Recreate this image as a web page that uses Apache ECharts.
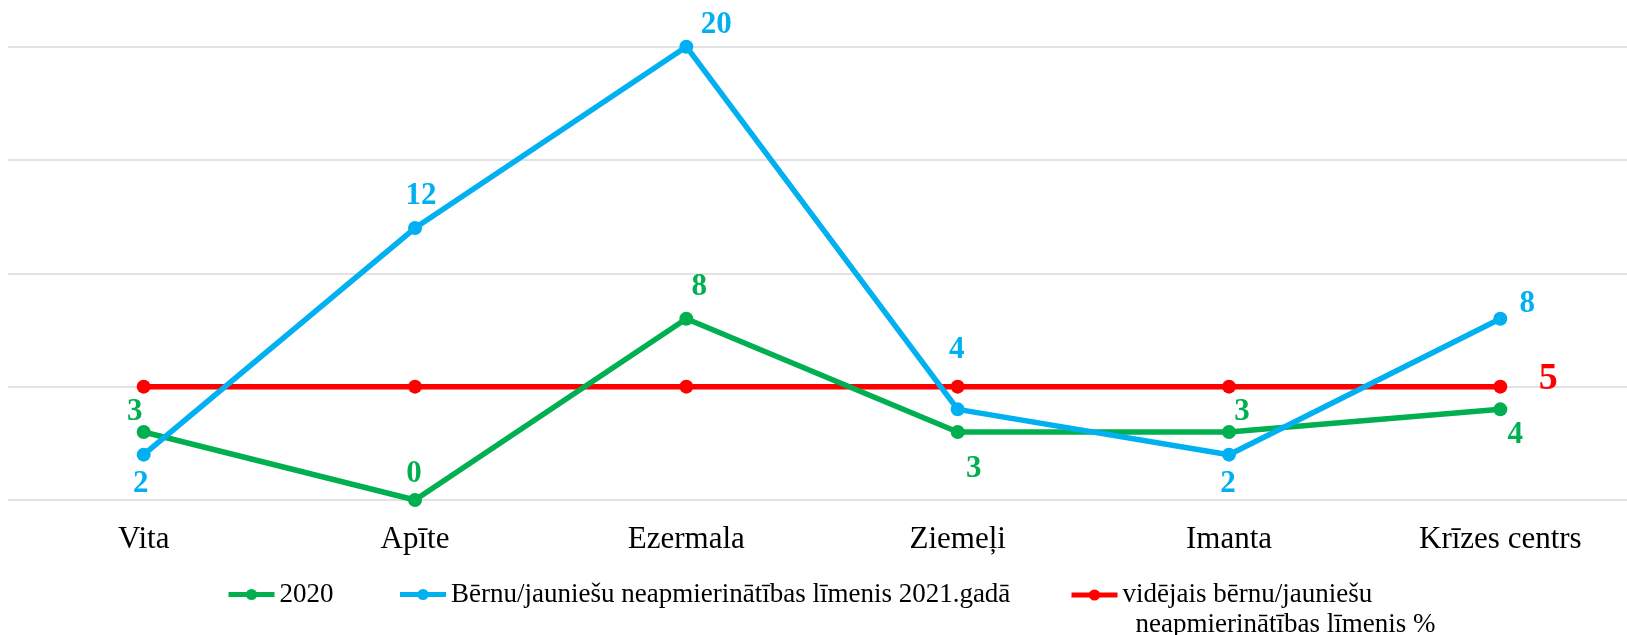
<!DOCTYPE html>
<html>
<head>
<meta charset="utf-8">
<script src="https://cdn.jsdelivr.net/npm/echarts@6/dist/echarts.min.js"></script>
<style>
  html, body { margin: 0; padding: 0; background: #fff; overflow: hidden; }
  #chart { width: 1650px; height: 635px; }
</style>
</head>
<body>
<div id="chart"></div>
<script>
const categories = ['Vita', 'Apīte', 'Ezermala', 'Ziemeļi', 'Imanta', 'Krīzes centrs']
const values2020 = [3, 0, 8, 3, 3, 4]
const values2021 = [2, 12, 20, 4, 2, 8]
const valuesAvg = [5, 5, 5, 5, 5, 5]

const name2020 = '2020'
const name2021 = 'Bērnu/jauniešu neapmierinātības līmenis 2021.gadā'
const nameAvg = 'vidējais bērnu/jauniešu\nneapmierinātības līmenis %'

// label offsets from each point (px)
const offsets2020 = [[-9, -20], [-1, -26], [13, -32], [16, 37], [13, -20], [15, 26]]
const offsets2021 = [[-3, 29], [6, -32], [30, -22], [-1, -59], [-1, 29], [27, -15]]

const green = '#00B050'
const blue = '#00B0F0'
const red = '#FF0000'
const serif = '"Liberation Serif", "Times New Roman", serif'

const withLabels = (values, offsets, color) =>
  values.map((v, i) => ({
    value: v,
    label: {
      show: true,
      position: 'inside',
      offset: offsets[i],
      color: color,
      fontFamily: serif,
      fontWeight: 'bold',
      fontSize: 31
    }
  }))

const avgData = valuesAvg.map((v, i) => {
  if (i !== valuesAvg.length - 1) return v
  return {
    value: v,
    label: {
      show: true,
      position: 'inside',
      offset: [48, -7],
      color: red,
      fontFamily: serif,
      fontWeight: 'bold',
      fontSize: 38
    }
  }
})

const legendCommon = {
  padding: 0,
  itemWidth: 46,
  itemHeight: 14,
  lineStyle: { width: 5 },
  textStyle: { color: '#000', fontFamily: serif, fontSize: 27 }
}

const chart = echarts.init(document.getElementById('chart'))
chart.setOption({
  animation: false,
  grid: { left: 8, width: 1628, top: 46.7, height: 453.3, containLabel: false },
  xAxis: {
    type: 'category',
    data: categories,
    boundaryGap: true,
    axisLine: { show: false },
    axisTick: { show: false },
    axisLabel: { color: '#000', fontFamily: serif, fontSize: 31, margin: 24 }
  },
  yAxis: {
    type: 'value',
    min: 0,
    max: 20,
    interval: 5,
    axisLabel: { show: false },
    axisLine: { show: false },
    axisTick: { show: false },
    splitLine: { lineStyle: { color: '#d9d9d9', width: 1.5 } }
  },
  legend: [
    Object.assign({}, legendCommon, {
      left: 226,
      top: 581,
      itemGap: 64,
      data: [name2020, name2021]
    }),
    Object.assign({}, legendCommon, {
      left: 1069,
      top: 550,
      // leading blank line keeps the icon level with the first text line
      formatter: name => {
        const lines = name.split('\n')
        return ' \n' + lines[0] + '\n{b|' + lines[1] + '}'
      },
      textStyle: Object.assign({}, legendCommon.textStyle, {
        lineHeight: 30,
        rich: { b: { fontFamily: serif, fontSize: 27, lineHeight: 30, padding: [0, 0, 0, 13] } }
      }),
      data: [nameAvg]
    })
  ],
  series: [
    {
      name: name2020,
      type: 'line',
      data: withLabels(values2020, offsets2020, green),
      color: green,
      symbol: 'circle',
      symbolSize: 14,
      lineStyle: { width: 5.5, color: green },
      z: 3
    },
    {
      name: name2021,
      type: 'line',
      data: withLabels(values2021, offsets2021, blue),
      color: blue,
      symbol: 'circle',
      symbolSize: 14,
      lineStyle: { width: 5.5, color: blue },
      z: 4
    },
    {
      name: nameAvg,
      type: 'line',
      data: avgData,
      color: red,
      symbol: 'circle',
      symbolSize: 14,
      lineStyle: { width: 5.5, color: red },
      z: 2
    }
  ]
})
</script>
</body>
</html>
